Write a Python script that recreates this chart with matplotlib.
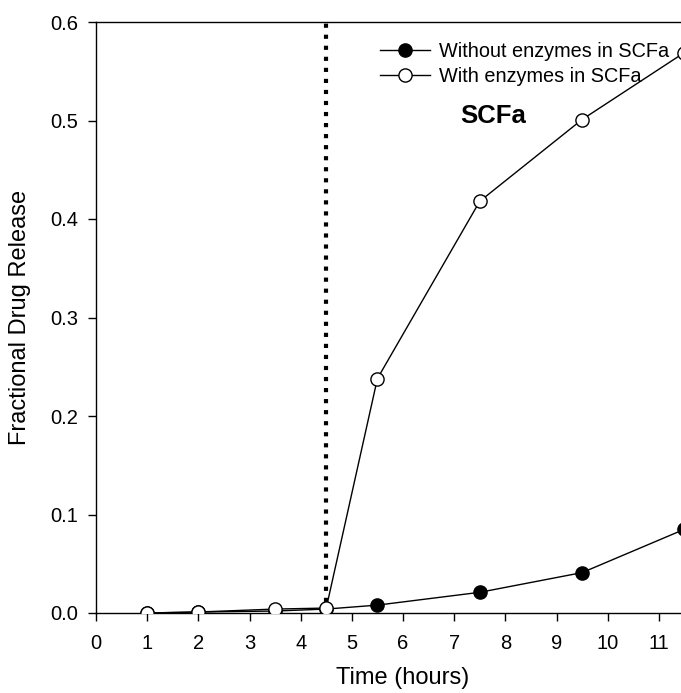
import matplotlib
matplotlib.use('Agg')
import matplotlib.pyplot as plt

plt.rcParams['font.family'] = ['Liberation Sans', 'DejaVu Sans']

# sampling times (hours)
time = [1, 2, 3.5, 4.5, 5.5, 7.5, 9.5, 11.5]
without_enzymes = [0.0, 0.001, 0.002, 0.004, 0.008, 0.021, 0.041, 0.085]
with_enzymes = [0.0, 0.001, 0.004, 0.005, 0.238, 0.418, 0.501, 0.569]
switch_time = 4.5

xticks = list(range(0, 12))
yticks = [0.0, 0.1, 0.2, 0.3, 0.4, 0.5, 0.6]

fig = plt.figure(figsize=(6.81, 6.93), dpi=100)
ax = fig.add_axes([96 / 681, 80 / 693, 614 / 681, 591 / 693])

ax.plot([switch_time, switch_time], [0, 0.6], color='black', linestyle=':', linewidth=3, zorder=1)

ax.plot(time, without_enzymes, color='black', linewidth=1, marker='o', markersize=9.5,
        markerfacecolor='black', markeredgecolor='black', label='Without enzymes in SCFa', zorder=3)
ax.plot(time, with_enzymes, color='black', linewidth=1, marker='o', markersize=9.5,
        markerfacecolor='white', markeredgecolor='black', markeredgewidth=1,
        label='With enzymes in SCFa', zorder=4)

ax.set_xlim(0, 12)
ax.set_ylim(0, 0.6)
ax.set_xticks(xticks)
ax.set_yticks(yticks)
ax.set_yticklabels(['%.1f' % v for v in yticks])
ax.tick_params(direction='out', length=6, width=1, labelsize=14.5)
ax.tick_params(axis='x', pad=9)
ax.tick_params(axis='y', pad=7)
ax.spines['right'].set_visible(False)
for s in ['left', 'bottom', 'top']:
    ax.spines[s].set_linewidth(1)

ax.set_xlabel('Time (hours)', fontsize=17, labelpad=10)
ax.set_ylabel('Fractional Drug Release', fontsize=17, labelpad=14)

ax.text(7.76, 0.505, 'SCFa', fontsize=18.5, fontweight='bold', ha='center', va='center')

ax.legend(loc='upper left', bbox_to_anchor=(380 / 681, 1 - 42 / 693), bbox_transform=fig.transFigure,
          frameon=False, fontsize=14.3, handlelength=2.5, handletextpad=0.45, labelspacing=0.3,
          borderpad=0, borderaxespad=0)

fig.savefig('out.png', dpi=100)
